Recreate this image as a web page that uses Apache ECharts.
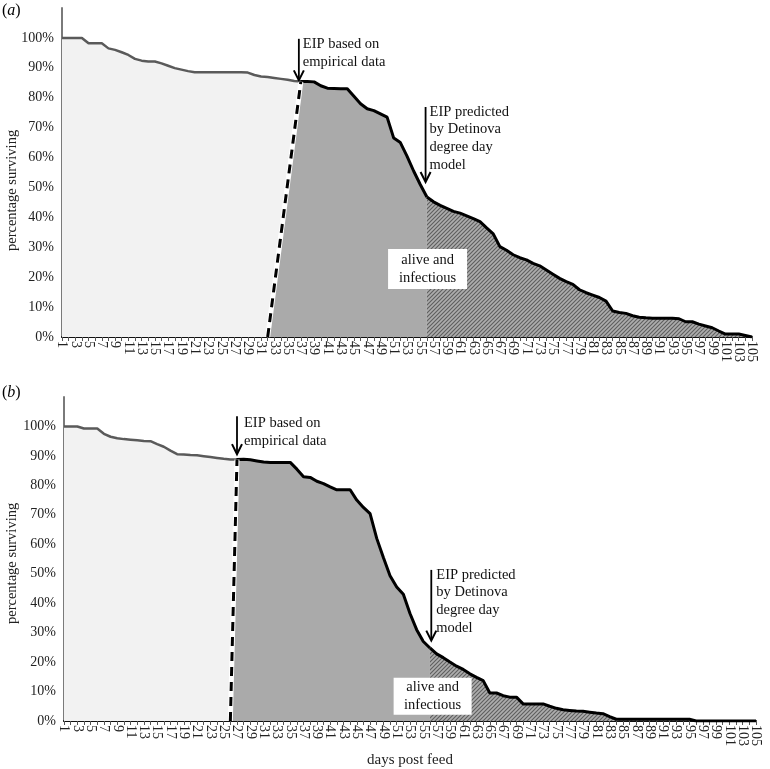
<!DOCTYPE html>
<html><head><meta charset="utf-8">
<script src="https://cdn.jsdelivr.net/npm/echarts@6/dist/echarts.min.js"></script>
<style>html,body{margin:0;padding:0;background:#fff}#c{width:770px;height:769px}</style>
</head><body><div id="c"></div>
<script>
// day 1 .. 105
const survivalA = [
 100,100,100,100,98.2,98.2,98.2,96.5,96,95.2,
 94.3,93,92.4,92.1,92.1,91.5,90.7,89.9,89.4,88.9,
 88.5,88.5,88.5,88.5,88.5,88.5,88.5,88.5,88.4,87.6,
 87.1,86.9,86.6,86.3,86,85.6,85.4,85.4,85.3,84,
 83.2,83.1,83,83,80.5,78,76.3,75.7,74.6,73.5,
 66.5,65,60.5,55.5,51,46.8,45.2,44,43,42,
 41.4,40.5,39.6,38.6,36.5,34.5,30.2,29,27.5,26.5,
 25.8,24.6,23.8,22.4,21,19.6,18.5,17.6,15.8,14.8,
 14,13.2,12,8.7,8.2,7.9,7.1,6.6,6.4,6.3,
 6.3,6.3,6.3,6.1,5.1,5.1,4.3,3.7,3.1,2,
 1,1,1,0.5,0
];
const survivalB = [
 100,100,100,99.3,99.3,99.3,97.5,96.5,96,95.7,
 95.5,95.3,95.1,95,94,93.1,91.8,90.6,90.5,90.3,
 90.2,89.9,89.6,89.3,89,88.8,88.8,88.9,88.7,88.3,
 87.9,87.8,87.8,87.8,87.8,85.5,82.9,82.7,81.4,80.6,
 79.5,78.5,78.5,78.5,75,72.5,70.4,62,55.5,49.3,
 45.5,43,36.5,31,27,24.8,22.8,21.5,20,18.6,
 17.5,16,14.8,13.7,9.5,9.5,8.6,8.1,8.1,5.8,
 5.8,5.8,5.8,5,4.3,3.8,3.6,3.4,3.3,3,
 2.7,2.5,1.5,0.6,0.6,0.6,0.6,0.6,0.6,0.6,
 0.6,0.6,0.6,0.6,0.6,0,0,0,0,0,
 0,0,0,0,0
];
const panelLabels = ['a', 'b'];
const yTickMax = 100;
// boundaries (days): [dash base, empirical EIP, model EIP]
const eipA = [32, 37, 56];
const eipB = [26, 27, 56];
const annotEmpirical = 'EIP based on\nempirical data';
const annotModel = 'EIP predicted\nby Detinova\ndegree day\nmodel';
const boxText = 'alive and\ninfectious';

const FONT = '"Liberation Serif", "Times New Roman", serif';

const pc = document.createElement('canvas'); pc.width = 4; pc.height = 4;
const g = pc.getContext('2d');
g.fillStyle = '#adadad'; g.fillRect(0, 0, 4, 4);
g.strokeStyle = '#5e5e5e'; g.lineWidth = 1.1;
g.beginPath();
g.moveTo(0, 4); g.lineTo(4, 0);
g.moveTo(-1, 1); g.lineTo(1, -1);
g.moveTo(3, 5); g.lineTo(5, 3);
g.stroke();
const hatch = { image: pc, repeat: 'repeat' };

function pts(arr, from, to) {
  return arr.slice(from - 1, to).map((v, i) => [from + i, v]);
}

function panelSeries(arr, eip, k) {
  const [base, emp, model] = eip;
  const common = { type: 'line', xAxisIndex: k, yAxisIndex: k, symbol: 'none', silent: true, animation: false };
  const slant = [[base, 0], [emp, arr[emp - 1]]];
  return [
    Object.assign({}, common, { data: pts(arr, 1, emp), lineStyle: { color: '#5a5a5a', width: 2.5 }, areaStyle: { color: '#f2f2f2', opacity: 1 } }),
    Object.assign({}, common, { data: [[base, 0]].concat(pts(arr, emp, model)), lineStyle: { color: '#000', width: 3 }, areaStyle: { color: '#aaaaaa', opacity: 1 } }),
    Object.assign({}, common, { data: pts(arr, model, 105), lineStyle: { color: '#000', width: 3 }, areaStyle: { color: hatch, opacity: 1 } }),
    Object.assign({}, common, { data: slant, lineStyle: { color: '#fff', width: 5 } }),
    Object.assign({}, common, { data: slant, lineStyle: { color: '#000', width: 3, type: [9, 6] } })
  ];
}

function xAxis(k, withName) {
  return {
    type: 'value', gridIndex: k, min: 1, max: 105, interval: 1,
    name: withName ? 'days post feed' : '', nameLocation: 'middle', nameGap: 32,
    nameTextStyle: { fontFamily: FONT, fontSize: 15, color: '#222' },
    axisLine: { show: true, onZero: false, lineStyle: { color: '#111', width: 2 } },
    axisTick: { show: true, length: 4, lineStyle: { color: '#555', width: 1 } },
    splitLine: { show: false },
    axisLabel: {
      rotate: -90, margin: 4, fontFamily: FONT, fontSize: 14, color: '#222',
      formatter: v => (v % 2 === 1 ? String(v) : '')
    }
  };
}
function yAxis(k) {
  return {
    type: 'value', gridIndex: k, min: 0, max: 110, interval: 10,
    axisLine: { show: true, lineStyle: { color: '#7a7a7a', width: 2 } },
    axisTick: { show: false }, splitLine: { show: false },
    axisLabel: { margin: 8, fontFamily: FONT, fontSize: 14, color: '#222',
      formatter: v => (v <= yTickMax ? v + '%' : '') }
  };
}

const chart = echarts.init(document.getElementById('c'), null, { renderer: 'canvas' });
const option = {
  animation: false,
  backgroundColor: '#fff',
  grid: [
    { left: 62, right: 18, top: 8, height: 329 },
    { left: 64, right: 14, top: 397, height: 327 }
  ],
  xAxis: [xAxis(0, false), xAxis(1, true)],
  yAxis: [yAxis(0), yAxis(1)],
  series: panelSeries(survivalA, eipA, 0).concat(panelSeries(survivalB, eipB, 1))
};
chart.setOption(option);

function px(k, x, y) { return chart.convertToPixel({ xAxisIndex: k, yAxisIndex: k }, [x, y]); }

const graphics = [];
function arrow(k, day, vTop, vTip) {
  const a = px(k, day, vTop), b = px(k, day, vTip);
  graphics.push({ type: 'line', silent: true, z: 100, shape: { x1: a[0], y1: a[1], x2: b[0], y2: b[1] - 1 }, style: { stroke: '#000', lineWidth: 1.8 } });
  graphics.push({ type: 'polyline', silent: true, z: 100, shape: { points: [[b[0] - 5, b[1] - 10], [b[0], b[1]], [b[0] + 5, b[1] - 10]] }, style: { stroke: '#000', lineWidth: 2, fill: null } });
  return a;
}
function label(x, y, text) {
  graphics.push({ type: 'text', silent: true, z: 101, style: { text: text, x: x, y: y, fill: '#111', font: '14.5px ' + FONT, lineHeight: 17.7, textAlign: 'left', textVerticalAlign: 'top' } });
}
function box(k, day, v, w, h) {
  const c = px(k, day, v);
  graphics.push({ type: 'rect', silent: true, z: 100, shape: { x: c[0] - w / 2, y: c[1] - h / 2, width: w, height: h }, style: { fill: '#fff' } });
  graphics.push({ type: 'text', silent: true, z: 101, style: { text: boxText, x: c[0], y: c[1], fill: '#111', font: '14.5px ' + FONT, lineHeight: 17.7, textAlign: 'center', textVerticalAlign: 'middle' } });
}
function yName(k, v) {
  const p = px(k, 1, v);
  graphics.push({ type: 'text', silent: true, z: 101, x: 12, y: p[1], rotation: Math.PI / 2, style: { text: 'percentage surviving', x: 0, y: 0, fill: '#222', font: '14.5px ' + FONT, textAlign: 'center', textVerticalAlign: 'middle' } });
}
function panelTag(y, letter) {
  graphics.push({ type: 'text', silent: true, z: 101, style: { text: '{n|(}{i|' + letter + '}{n|)}', x: 2, y: y, textVerticalAlign: 'middle',
    rich: { n: { fontFamily: FONT, fontSize: 16, color: '#222' }, i: { fontFamily: FONT, fontSize: 16, fontStyle: 'italic', color: '#222' } } } });
}

// panel a
let t = arrow(0, 36.7, 99.7, 85.8); label(t[0] + 4, t[1] - 3, annotEmpirical);
t = arrow(0, 55.8, 76.9, 51.8); label(t[0] + 4, t[1] - 4, annotModel);
box(0, 56.1, 22.7, 79, 40);
yName(0, 49);
panelTag(11, panelLabels[0]);
// panel b
t = arrow(1, 27.0, 103.5, 90.6); label(t[0] + 7, t[1] - 2, annotEmpirical);
t = arrow(1, 56.2, 51.3, 27.3); label(t[0] + 5, t[1] - 4, annotModel);
box(1, 56.4, 8.4, 78, 37);
yName(1, 53.5);
panelTag(393, panelLabels[1]);

chart.setOption({ graphic: graphics });
</script>
</body></html>
